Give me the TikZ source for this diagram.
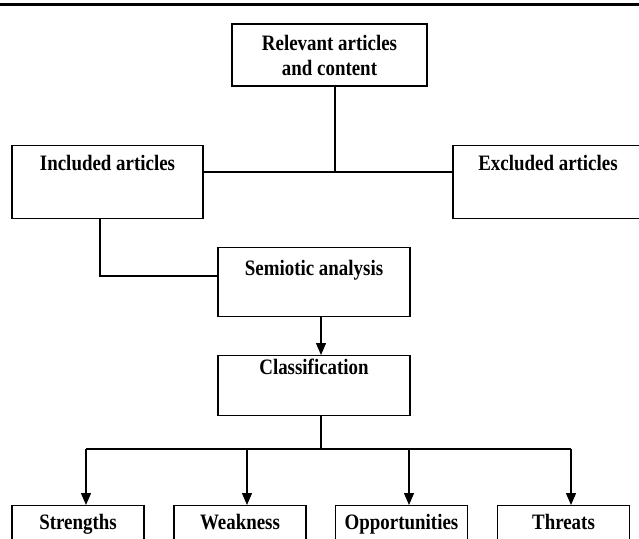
\documentclass[tikz,border=0pt]{standalone}
\usepackage{fontspec}
\setmainfont{Liberation Serif}[FakeStretch=0.86]
\usetikzlibrary{arrows.meta}
\begin{document}
\begin{tikzpicture}[x=1pt,y=1pt,
  box/.style={draw, line width=1.3pt, inner sep=0pt, anchor=north,
    font=\bfseries\fontsize{22}{25}\selectfont},
  conn/.style={line width=1.3pt},
  arr/.style={line width=1.3pt, -{Triangle[length=12pt,width=10pt]}}]
\useasboundingbox (0,0) rectangle (639,-538);
% top rule
\draw[line width=2.5pt] (0,-4.5) -- (639,-4.5);
% boxes
\node[box, anchor=center, minimum width=195pt, minimum height=62pt, align=center] (rel) at (329.5,-55) {Relevant articles\\and content};
\node[box, minimum width=191pt, text height=24.5pt, text depth=48.5pt] (inc) at (107.5,-145) {Included articles};
\node[box, minimum width=190pt, text height=24.5pt, text depth=48.5pt] (exc) at (548,-145) {Excluded articles};
\node[box, minimum width=192pt, text height=27.5pt, text depth=41.5pt] (sem) at (314,-247) {Semiotic analysis};
\node[box, minimum width=192pt, text height=19pt, text depth=41pt] (cls) at (314,-355) {Classification};
\node[box, minimum width=132pt, text height=24pt, text depth=40pt] (s) at (78,-505) {Strengths};
\node[box, minimum width=132pt, text height=24pt, text depth=40pt] (w) at (240,-505) {Weakness};
\node[box, minimum width=132pt, text height=24pt, text depth=40pt] (o) at (401.5,-505) {Opportunities};
\node[box, minimum width=132pt, text height=24pt, text depth=40pt] (t) at (563.5,-505) {Threats};
% junctions
\coordinate (j1) at (335,-172);
\coordinate (j2) at (100,-276);
\coordinate (c1) at (321,-300);
\coordinate (j3) at (321,-449);
\coordinate (b1) at (86,-449);
\coordinate (b2) at (247,-449);
\coordinate (b3) at (409,-449);
\coordinate (b4) at (571,-449);
% connectors
\draw[conn] (rel.south -| j1) -- (j1);
\draw[conn] (inc.east |- j1) -- (exc.west |- j1);
\draw[conn] (inc.south -| j2) -- (j2) -- (sem.west |- j2);
\draw[arr] (sem.south -| c1) -- (cls.north -| c1);
\draw[conn] (cls.south -| j3) -- (j3);
\draw[conn] (b1) -- (b4);
\draw[arr] (b1) -- (s.north -| b1);
\draw[arr] (b2) -- (w.north -| b2);
\draw[arr] (b3) -- (o.north -| b3);
\draw[arr] (b4) -- (t.north -| b4);
\end{tikzpicture}
\end{document}
